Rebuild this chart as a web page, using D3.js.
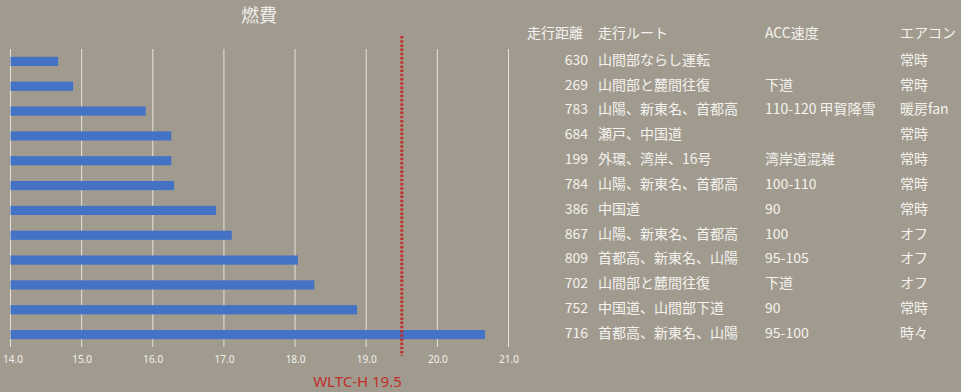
<!DOCTYPE html>
<html>
<head>
<meta charset="utf-8">
<script src="https://d3js.org/d3.v7.min.js"></script>
<style>
  html, body { margin: 0; padding: 0; background: #a19b8f; }
  svg { display: block; }
  .tick text { font-family: "Noto Sans", sans-serif; }
</style>
</head>
<body>
<script>
const mileage = [14.67, 14.88, 15.9, 16.26, 16.26, 16.3, 16.89, 17.11, 18.04, 18.27, 18.87, 20.67];
const distance = [630, 269, 783, 684, 199, 784, 386, 867, 809, 702, 752, 716];
const route = ['山間部ならし運転', '山間部と麓間往復', '山陽、新東名、首都高', '瀬戸、中国道', '外環、湾岸、16号',
  '山陽、新東名、首都高', '中国道', '山陽、新東名、首都高', '首都高、新東名、山陽', '山間部と麓間往復',
  '中国道、山間部下道', '首都高、新東名、山陽'];
const accSpeed = ['', '下道', '110-120 甲賀降雪', '', '湾岸道混雑', '100-110', '90', '100', '95-105', '下道', '90', '95-100'];
const aircon = ['常時', '常時', '暖房fan', '常時', '常時', '常時', '常時', 'オフ', 'オフ', 'オフ', '常時', '時々'];
const headers = ['走行距離', '走行ルート', 'ACC速度', 'エアコン'];
const xTicks = [14, 15, 16, 17, 18, 19, 20, 21];
const wltc = 19.5;

const width = 961, height = 392;
const jp = '"Noto Sans CJK JP", sans-serif';

const svg = d3.select('body').append('svg').attr('width', width).attr('height', height);

const x = d3.scaleLinear().domain([14, 21]).range([10.5, 508.5]);
const y = d3.scaleBand().domain(d3.range(mileage.length)).range([49, 347]).paddingInner(0.63).paddingOuter(0.315);

// gridlines
svg.append('g')
  .selectAll('line')
  .data(xTicks)
  .join('line')
  .attr('x1', d => x(d)).attr('x2', d => x(d))
  .attr('y1', 49).attr('y2', 347)
  .attr('stroke', '#e6e3dc')
  .attr('stroke-width', 1);

// bars
svg.append('g')
  .selectAll('rect')
  .data(mileage)
  .join('rect')
  .attr('x', x(14))
  .attr('y', (d, i) => y(i))
  .attr('width', d => x(d) - x(14))
  .attr('height', y.bandwidth())
  .attr('fill', '#4472c4');

// axis labels
const axis = svg.append('g')
  .attr('transform', 'translate(0,347)')
  .call(d3.axisBottom(x).tickValues(xTicks).tickFormat(d3.format('.1f')).tickSize(0).tickPadding(9));
axis.select('.domain').remove();
axis.selectAll('text').attr('fill', '#f2f0ec').attr('font-size', 10);
axis.selectAll('.tick').filter(d => d === 14).select('text').attr('dx', 2);

// WLTC reference line
svg.append('line')
  .attr('x1', x(wltc)).attr('x2', x(wltc))
  .attr('y1', 36).attr('y2', 356)
  .attr('stroke', '#c0302a')
  .attr('stroke-width', 3)
  .attr('stroke-dasharray', '2.5,1.7');

svg.append('text')
  .attr('x', x(wltc))
  .attr('y', 387)
  .attr('text-anchor', 'end')
  .attr('font-family', '"Noto Sans", sans-serif')
  .attr('font-size', 15)
  .attr('fill', '#c0302a')
  .text('WLTC-H ' + wltc.toFixed(1));

// title
svg.append('text')
  .attr('x', 259).attr('y', 22)
  .attr('text-anchor', 'middle')
  .attr('font-family', jp)
  .attr('font-size', 18)
  .attr('fill', '#eeece8')
  .text('燃費');

// table
const table = svg.append('g').attr('font-family', jp).attr('font-size', 14).attr('fill', '#f4f2ee');
const headX = [527, 598, 765, 900];
table.selectAll('text.h')
  .data(headers)
  .join('text')
  .attr('class', 'h')
  .attr('x', (d, i) => headX[i])
  .attr('y', 33)
  .attr('dy', '0.35em')
  .text(d => d);

const rowY = i => y(i) + y.bandwidth() / 2 - 1.5;
const cols = [
  {vals: distance, x: 588, anchor: 'end'},
  {vals: route, x: 598, anchor: 'start'},
  {vals: accSpeed, x: 765, anchor: 'start'},
  {vals: aircon, x: 900, anchor: 'start'}
];
cols.forEach(c => {
  table.append('g')
    .selectAll('text')
    .data(c.vals)
    .join('text')
    .attr('x', c.x)
    .attr('y', (d, i) => rowY(i))
    .attr('dy', '0.35em')
    .attr('text-anchor', c.anchor)
    .text(d => d);
});
</script>
</body>
</html>
